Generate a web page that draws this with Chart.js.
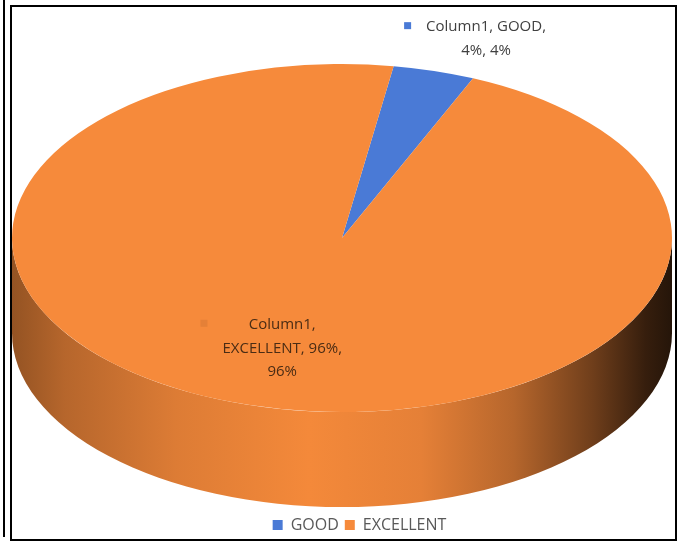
<!DOCTYPE html>
<html>
<head>
<meta charset="utf-8">
<script src="https://cdn.jsdelivr.net/npm/chart.js@4.4.0/dist/chart.umd.min.js"></script>
<style>
  html, body { margin: 0; padding: 0; background: #fff; }
  #moldura { position: relative; width: 679px; height: 542px; overflow: hidden; }
  #grafico { position: absolute; left: 0; top: 0; }
  .linha { position: absolute; background: #000; }
</style>
</head>
<body>
<div id="moldura">
  <canvas id="grafico" width="679" height="542"></canvas>
  <div class="linha" style="left:3px;top:0;width:2px;height:537px"></div>
  <div class="linha" style="left:10px;top:5px;width:2px;height:536px"></div>
  <div class="linha" style="left:10px;top:5px;width:667px;height:2px"></div>
  <div class="linha" style="left:675px;top:5px;width:2px;height:536px"></div>
  <div class="linha" style="left:10px;top:539px;width:667px;height:2px"></div>
</div>
<script>
// dados do gráfico
const serie = 'Column1'
const categorias = ['GOOD', 'EXCELLENT']
const valores = [4, 96]
const cores = ['#4a7ad6', '#f68a3b']

// geometria da pizza 3D (elipse do topo + altura da lateral)
const CX = 342, CY = 238, RX = 330, RY = 174, ALTURA = 95
const FONTE = '"Open Sans", Lato, sans-serif'

// escurece uma cor hex por um fator
function sombra(hex, f) {
  const n = parseInt(hex.slice(1), 16)
  const r = Math.round(((n >> 16) & 255) * f)
  const g = Math.round(((n >> 8) & 255) * f)
  const b = Math.round((n & 255) * f)
  return 'rgb(' + r + ',' + g + ',' + b + ')'
}

const pizza3d = {
  id: 'pizza3d',
  beforeDatasetsDraw(chart) {
    const ctx = chart.ctx
    const arcos = chart.getDatasetMeta(0).data
    ctx.save()

    // lateral: só a metade da frente (ângulos 0..PI) aparece
    arcos.forEach((arco, i) => {
      const s = arco.startAngle, e = arco.endAngle
      for (let k = -1; k <= 2; k++) {
        const base = 2 * Math.PI * k
        const a = Math.max(s, base), b = Math.min(e, base + Math.PI)
        if (b <= a) continue
        const grad = ctx.createLinearGradient(CX - RX, 0, CX + RX, 0)
        const fatores = [[0, 0.6], [0.08, 0.74], [0.25, 0.9], [0.45, 0.99], [0.62, 0.93], [0.76, 0.74], [0.88, 0.45], [0.96, 0.22], [1, 0.15]]
        fatores.forEach(p => grad.addColorStop(p[0], sombra(cores[i], p[1])))
        ctx.beginPath()
        ctx.ellipse(CX, CY, RX, RY, 0, a - base, b - base)
        ctx.ellipse(CX, CY + ALTURA, RX, RY, 0, b - base, a - base, true)
        ctx.closePath()
        ctx.fillStyle = grad
        ctx.fill()
      }
    })

    // topo: o Chart.js desenha os arcos achatados numa elipse
    const a0 = arcos[0]
    const sx = RX / a0.outerRadius, sy = RY / a0.outerRadius
    ctx.setTransform(sx, 0, 0, sy, CX - a0.x * sx, CY - a0.y * sy)
  },
  afterDatasetsDraw(chart) {
    const ctx = chart.ctx
    ctx.restore()
    const arcos = chart.getDatasetMeta(0).data

    arcos.forEach((arco, i) => {
      const meio = (arco.startAngle + arco.endAngle) / 2
      const pct = valores[i] + '%'
      let linhas, px, py, corTexto
      if (i === 0) {
        // rótulo fora da fatia
        px = CX + RX * Math.cos(meio) + 52
        py = CY + RY * Math.sin(meio) - 32
        linhas = [serie + ', ' + categorias[i] + ',', pct + ', ' + pct]
        corTexto = '#404040'
      } else {
        px = CX + RX * 0.66 * Math.cos(meio) + 1
        py = CY + RY * 0.66 * Math.sin(meio)
        linhas = [serie + ',', categorias[i] + ', ' + pct + ',', pct]
        corTexto = '#4a2c14'
      }
      ctx.font = '15px ' + FONTE
      ctx.textAlign = 'center'
      ctx.textBaseline = 'middle'
      ctx.fillStyle = corTexto
      const lh = 23.5
      const y0 = py - (linhas.length - 1) * lh / 2
      let largura = 0
      linhas.forEach((t, j) => {
        largura = Math.max(largura, ctx.measureText(t).width)
        ctx.fillText(t, px, y0 + j * lh)
      })
      // marcador da legenda no rótulo
      ctx.fillStyle = i === 0 ? cores[i] : sombra(cores[i], 0.93)
      ctx.fillRect(px - largura / 2 - 22, y0 - 5, 7, 7)
    })
  }
}

Chart.defaults.font.family = FONTE

new Chart(document.getElementById('grafico'), {
  type: 'pie',
  data: {
    labels: categorias,
    datasets: [{
      label: serie,
      data: valores,
      backgroundColor: cores,
      borderWidth: 0,
      clip: false
    }]
  },
  options: {
    responsive: false,
    animation: false,
    rotation: 9,
    layout: { padding: { bottom: -1, left: 40 } },
    plugins: {
      tooltip: { enabled: false },
      legend: {
        position: 'bottom',
        labels: {
          color: '#595959',
          font: { size: 16 },
          boxWidth: 10,
          boxHeight: 10,
          padding: 6
        }
      }
    }
  },
  plugins: [pizza3d]
})
</script>
</body>
</html>
